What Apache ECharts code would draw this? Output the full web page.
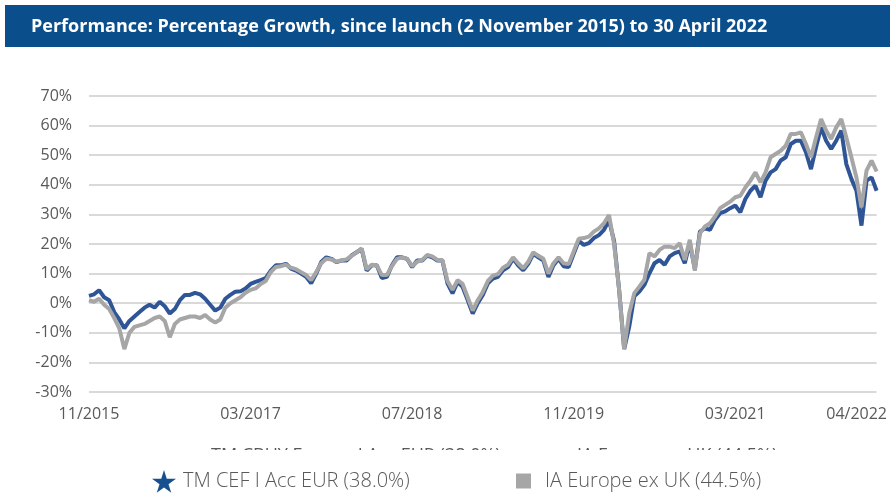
<!DOCTYPE html>
<html lang="en">
<head>
<meta charset="UTF-8">
<title>Performance: Percentage Growth</title>
<style>
    html, body { margin: 0; padding: 0; background: #fff; }
    #container { width: 890px; height: 493px; }
</style>
</head>
<body>
<div id="container"></div>
<script src="https://cdn.jsdelivr.net/npm/echarts@6/dist/echarts.min.js"></script>
<script>
    // half-monthly readings, 2 Nov 2015 -> 30 Apr 2022 (157 points)
    var fundName = 'TM CEF I Acc EUR (38.0%)';
    var indexName = 'IA Europe ex UK (44.5%)';

    var fundValues = [
        2.5, 3, 4.4, 2, 1, -3, -5.5, -8.5, -6, -4.5, -3, -1.5, -0.5, -1.5, 0.5, -1, -3.5, -2, 1, 2.8,
        2.8, 3.5, 3, 1.5, -0.5, -2.5, -1.5, 1.5, 2.8, 3.9, 4, 5, 6.5,
        7.2, 7.8, 8.5, 11, 12.8, 12.8, 13.3, 11.7, 11, 10, 8.9, 6.7, 10, 13.9, 15.5, 15, 13.9, 14.4,
        14.4, 16.1, 17.2, 18.3, 11, 12.8, 12.8, 8.5, 8.9, 12.8, 15.5, 15.5, 15, 12.2, 14.4,
        14.4, 16.1, 15.5, 14.4, 14.4, 6.7, 3.3, 7.2, 5.5, 1.1, -3.5, 0, 2.8, 6.7, 8.3, 8.9, 11.1,
        12.2, 15, 12.8, 11.1, 13.3, 16.7, 15.5, 14.4, 8.9, 12.8, 15, 12.5, 12.2, 16.7, 21.1,
        19.7, 20.3, 22, 23, 24.8, 28, 21, 4.5, -15.5, -7.9, 2.3, 3.9, 6.2, 10.1, 13.5, 14.6, 13,
        15.8, 16.9, 17.5, 13.5, 20.3, 11.5, 24.2, 25.3, 24.8, 28.2, 30.4, 31, 32.1,
        33, 30.7, 35.2, 38, 39.7, 35.8, 41.4, 44.2, 45.3, 48.2, 49.3, 53.8, 54.9, 54.9, 51, 45.3,
        52.7, 59.4, 54.9, 52.1, 54.9, 58.3, 47, 42, 38, 26.2, 41.4, 42.5, 38
    ];

    var indexValues = [
        1, 0.5, 1.5, -0.5, -2, -5, -8.5, -15.5, -10, -8, -7.5, -7, -6, -5, -4.5, -6, -11.5, -7, -5.5, -5,
        -4.5, -4.5, -5, -4, -5.5, -6.5, -5.5, -1.5, 0, 1, 2, 3.5, 4.5,
        5, 6.5, 7.5, 10.5, 12.2, 12.5, 13, 12, 11.5, 10.5, 9.5, 7.8, 10.5, 13.5, 15, 14.8, 14,
        14.5, 14.8, 16, 17.2, 18.5, 11.5, 13, 12.8, 9.5, 9.5, 12.5, 15, 15.5, 15, 12.5, 14,
        14.6, 16.3, 15.8, 14.6, 14.6, 7.5, 4.5, 7.8, 6.5, 2, -2.5, 1, 3.8, 7.5, 9.3, 9.8, 12,
        13, 15.5, 13.5, 11.8, 14, 17.2, 16, 15, 10, 13.5, 15.5, 13.5, 13.2, 17.5, 21.8,
        22, 22.5, 24.2, 25.3, 27, 29.8, 20, 4.5, -15.5, -3.4, 3.4, 5.6, 7.9, 16.9, 15.8, 18, 19.1,
        19.1, 18.6, 20.3, 14.6, 21.4, 11, 23.6, 25.9, 27, 29.3, 32.1, 33.2, 34.3,
        35.8, 36.3, 39.1, 41.4, 44.2, 40.8, 44.2, 49.3, 50.4, 51.5, 53.2, 57.2, 57.2, 57.7, 53.8,
        49.3, 56, 62.2, 58.3, 55.5, 59.4, 62.2, 56, 49.3, 42.5, 32.4, 44.8, 48.2, 44.5
    ];

    var tickIdx = [0, 32, 64, 96, 128, 156];
    var tickLabels = ['11/2015', '03/2017', '07/2018', '11/2019', '03/2021', '04/2022'];

    // dates for the category axis (1st and 16th of each month)
    var dates = [];
    for (var i = 0; i < fundValues.length; i++) {
        var m = 10 + Math.floor(i / 2);
        var y = 2015 + Math.floor(m / 12);
        var d = (i % 2) ? 16 : (i === 0 ? 2 : 1);
        dates.push(d + '/' + ((m % 12) + 1) + '/' + y);
    }
    dates[dates.length - 1] = '30/4/2022';

    var starPath = 'path://M50,0 L61,35 L98,35 L68,57 L79,91 L50,70 L21,91 L32,57 L2,35 L39,35 Z';
    var textColor = '#595959';
    var font = 'Open Sans';

    var myChart = echarts.init(document.getElementById('container'));
    var option = {
        animation: false,
        backgroundColor: '#fff',
        grid: { left: 89, right: 10, top: 96, bottom: 101 },
        legend: [{
            data: [{ name: fundName, icon: starPath }],
            left: 152, top: 470, padding: 0,
            itemWidth: 24, itemHeight: 23,
            textStyle: { color: textColor, fontSize: 20, fontWeight: 300, fontFamily: font, padding: [0, 0, 0, 2] }
        }, {
            data: [{ name: indexName, icon: 'rect' }],
            left: 516, top: 471, padding: 0,
            itemWidth: 15, itemHeight: 15,
            textStyle: { color: textColor, fontSize: 20, fontWeight: 300, fontFamily: font, padding: [0, 0, 0, 9] }
        }],
        xAxis: {
            type: 'category',
            data: dates,
            boundaryGap: false,
            axisLine: { show: false },
            axisTick: { show: false },
            splitLine: { show: false },
            axisLabel: {
                color: textColor, fontSize: 16, fontFamily: font, margin: 14,
                showMinLabel: true, showMaxLabel: true,
                interval: function (idx) { return tickIdx.indexOf(idx) >= 0; },
                formatter: function (val, idx) {
                    var k = tickIdx.indexOf(idx);
                    if (k < 0) return '';
                    if (k === tickIdx.length - 1) return '{last|' + tickLabels[k] + '}';
                    return tickLabels[k];
                },
                rich: {
                    last: { color: textColor, fontSize: 16, fontFamily: font, padding: [0, 40, 0, 0] }
                }
            }
        },
        yAxis: {
            type: 'value',
            min: -30, max: 70, interval: 10,
            axisLine: { show: false },
            axisTick: { show: false },
            axisLabel: { color: textColor, fontSize: 16, fontFamily: font, margin: 17, formatter: '{value}%' },
            splitLine: { lineStyle: { color: '#d9d9d9', width: 2 } }
        },
        series: [{
            name: fundName,
            type: 'line',
            data: fundValues,
            symbol: 'none',
            color: '#2f5597',
            lineStyle: { width: 4, color: '#2f5597' },
            itemStyle: { color: '#17508f' }
        }, {
            name: indexName,
            type: 'line',
            data: indexValues,
            symbol: 'none',
            color: '#a6a6a6',
            lineStyle: { width: 4, color: '#a6a6a6' },
            itemStyle: { color: '#a6a6a6' }
        }],
        graphic: [{
            type: 'rect',
            shape: { x: 5, y: 5, width: 885, height: 42 },
            style: { fill: '#0a4e8c' }
        }, {
            type: 'text',
            x: 31, y: 27,
            style: {
                text: 'Performance: Percentage Growth, since launch (2 November 2015) to 30 April 2022',
                fill: '#fff', font: 'bold 18px "Open Sans"', verticalAlign: 'middle'
            }
        }, {
            // old legend row, mostly hidden under the new one
            type: 'text',
            x: 211, y: 447,
            style: { text: 'TM CBUY Europe I Acc EUR (38.0%)', fill: textColor, font: '18px "Open Sans"', verticalAlign: 'top' }
        }, {
            type: 'text',
            x: 577, y: 447,
            style: { text: 'IA Europe ex UK (44.5%)', fill: textColor, font: '18px "Open Sans"', verticalAlign: 'top' }
        }, {
            type: 'rect',
            shape: { x: 0, y: 450, width: 890, height: 18 },
            style: { fill: '#fff' }
        }]
    };
    myChart.setOption(option);
</script>
</body>
</html>
